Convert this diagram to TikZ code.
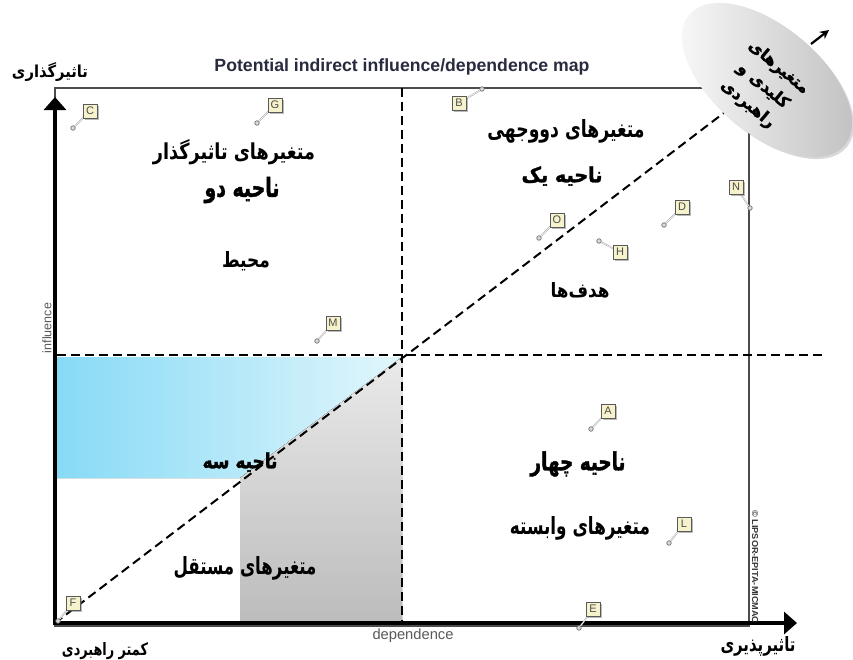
\documentclass[tikz,border=0pt]{standalone}
\usepackage{fontspec}
\setmainfont{Liberation Sans}
\newfontfamily\fa[Script=Arabic]{DejaVu Sans}
\newfontfamily\faheavy[Script=Arabic,UprightFeatures={FakeBold=1.6},BoldFeatures={FakeBold=1.6}]{DejaVu Sans}
\TeXXeTstate=1
\usetikzlibrary{arrows.meta,shapes.geometric,shadows,calc}
\definecolor{titlec}{RGB}{40,42,62}
\definecolor{mkfill}{RGB}{246,242,204}
\definecolor{blueL}{RGB}{135,218,246}
\definecolor{blueR}{RGB}{226,246,252}
\definecolor{grayT}{RGB}{234,234,234}
\definecolor{grayB}{RGB}{188,188,188}
\newcommand\FaBox[3]{\resizebox{#1}{#2}{\fa\bfseries #3}}
\newcommand\FaHeavy[3]{\resizebox{#1}{#2}{\faheavy\bfseries #3}}
\begin{document}
\begin{tikzpicture}[x=1pt,y=-1pt,
  mk/.style={draw=black!65, fill=mkfill, minimum size=14pt, inner sep=0pt,
    font=\fontsize{11}{11}\selectfont, text=black!70,
    drop shadow={shadow xshift=1.5pt,shadow yshift=-1.5pt,opacity=0.45,fill=black!60}},
  pin/.style={circle, draw=black!55, fill=black!15, minimum size=4.5pt, inner sep=0pt, line width=0.7pt},
  pinline/.style={draw=black!35, double=white, double distance=0.5pt, line width=0.5pt},
  dline/.style={dash pattern=on 9pt off 5pt, line width=2pt, black},
  frame/.style={draw=black!70, line width=1.2pt},
  axis/.style={line width=3.6pt, -{Triangle[width=22pt,length=13pt]}},
  lab/.style={inner sep=0pt}
]
\useasboundingbox (0,0) rectangle (853,659);
% shaded zones
\fill[left color=blueL, right color=blueR] (57,357) -- (402,357) -- (240,478) -- (57,478) -- cycle;
\fill[top color=grayT, bottom color=grayB] (240,478) -- (402,357) -- (402,621) -- (240,621) -- cycle;
% frame
\draw[frame] (55,88) rectangle (749,626);
% coordinates
\coordinate (O) at (55,623);
\coordinate (Ytop) at (55,97);
\coordinate (Xend) at (797,623);
\coordinate (Vt) at (402,88);
\coordinate (Vb) at (402,623);
\coordinate (Hl) at (57,355);
\coordinate (Hr) at (822,355);
% key ellipse
\node[ellipse, minimum width=203pt, minimum height=107pt, rotate=-40, inner sep=0pt,
  left color=gray!4, right color=gray!50, draw=none,
  drop shadow={opacity=0.3,shadow xshift=2pt,shadow yshift=-2pt}] (key) at (767,80) {};
\node[lab, rotate=-40, align=center, font=\faheavy\bfseries\fontsize{16}{24}\selectfont] (keytext) at (763,86)
  {\beginR متغیرهای\endR\\\beginR کلیدی و\endR\\\beginR راهبردی\endR};
% dashed lines
\draw[dline] (Vt) -- (Vb);
\draw[dline] (Hl) -- (Hr);
\draw[dline] (O) -- (key);
% axes
\draw[axis] ($(O)+(0,2)$) -- (Ytop);
\draw[axis] ($(O)+(-2,0)$) -- (Xend);
% arrow beyond the key ellipse
\coordinate (a1) at (811,44);
\coordinate (a2) at (829,30);
\draw[line width=2.2pt, -{Stealth[length=9pt,width=9pt]}] (a1) -- (a2);
% markers
\foreach \n/\bx/\by/\px/\py in {C/90/111/73/128, G/275/105/257/123, B/459/103/482/89,
  N/736/187/750/208, D/682/207/664/225, O/557/220/539/238, H/620/252/599/241,
  M/333/323/317/341, A/608/411/591/429, L/684/524/669/543, E/593/609/579/628, F/73/603/58/621}{
  \node[pin] (p\n) at (\px,\py) {};
  \coordinate (c\n) at (\bx,\by);
  \draw[pinline] (p\n) -- (c\n);
  \node[mk] (b\n) at (c\n) {\n};
}
% title and axis labels
\node[lab, text=titlec] (title) at (402,67) {\resizebox{375pt}{!}{\bfseries Potential indirect influence/dependence map}};
\node[lab, rotate=90, text=black!65] (infl) at (47,328) {\resizebox{50pt}{!}{influence}};
\node[lab, text=black!65] (dep) at (413,636) {\resizebox{81pt}{!}{dependence}};
\node[lab, rotate=-90, text=black!80] (lips) at (755,567) {\resizebox{113pt}{6pt}{\bfseries \textcopyright\ LIPSOR-EPITA-MICMAC}};
% persian labels
\node[lab] (yl) at (50,72) {\FaBox{76pt}{15pt}{\beginR تاثیرگذاری\endR}};
\node[lab] (xl) at (758,646) {\FaBox{75pt}{15pt}{\beginR تاثیرپذیری\endR}};
\node[lab] (ol) at (105,651) {\FaBox{86pt}{13pt}{\beginR کمتر راهبردی\endR}};
\node[lab] (t2a) at (234,152) {\FaBox{162pt}{20pt}{\beginR متغیرهای تاثیرگذار\endR}};
\node[lab] (t2b) at (242,190) {\FaHeavy{75pt}{20pt}{\beginR ناحیه دو\endR}};
\node[lab] (t2c) at (246,261) {\FaBox{48pt}{16pt}{\beginR محیط\endR}};
\node[lab] (t1a) at (566,131) {\FaBox{157pt}{18pt}{\beginR متغیرهای دووجهی\endR}};
\node[lab] (t1b) at (562,176) {\FaHeavy{81pt}{16pt}{\beginR ناحیه یک\endR}};
\node[lab] (t1c) at (580,290) {\FaBox{59pt}{15pt}{\beginR هدف‌ها\endR}};
\node[lab] (t3b) at (240,462) {\FaHeavy{75pt}{16pt}{\beginR ناحیه سه\endR}};
\node[lab] (t3a) at (245,568) {\FaBox{143pt}{18pt}{\beginR متغیرهای مستقل\endR}};
\node[lab] (t4b) at (578,464) {\FaHeavy{95pt}{19pt}{\beginR ناحیه چهار\endR}};
\node[lab] (t4a) at (580,528) {\FaBox{140pt}{18pt}{\beginR متغیرهای وابسته\endR}};
\end{tikzpicture}
\end{document}
